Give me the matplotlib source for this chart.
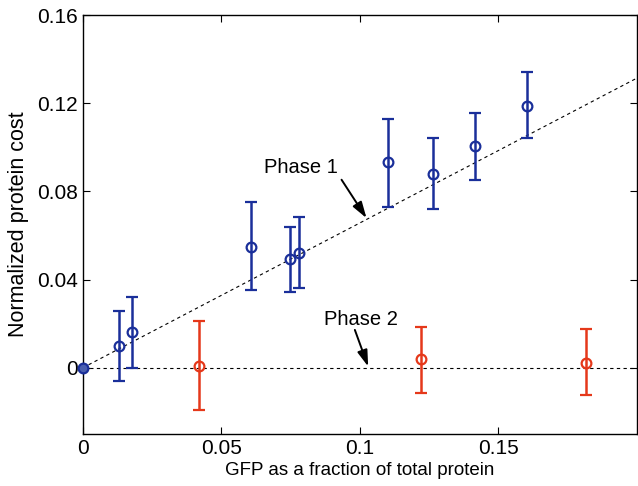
import matplotlib
matplotlib.use('Agg')
import matplotlib.pyplot as plt

plt.rcParams['font.family'] = ['Liberation Sans', 'DejaVu Sans']

# phase 1 measurements (blue)
x1 = [0.013, 0.0178, 0.0609, 0.0747, 0.0779, 0.1103, 0.1265, 0.1415, 0.1603]
y1 = [0.0101, 0.0162, 0.055, 0.0493, 0.052, 0.0933, 0.088, 0.1008, 0.1188]
y1_top = [0.026, 0.0319, 0.0753, 0.0638, 0.0683, 0.113, 0.1043, 0.1155, 0.1342]
y1_bot = [-0.0059, 0.0, 0.0354, 0.0343, 0.0363, 0.0731, 0.0721, 0.0853, 0.1044]

# phase 2 measurements (red)
x2 = [0.042, 0.1219, 0.1815]
y2 = [0.0009, 0.0039, 0.0024]
y2_top = [0.0213, 0.0186, 0.0177]
y2_bot = [-0.0192, -0.0115, -0.0124]

# fitted lines
fit_x = [0, 0.2]
fit1_y = [0, 0.1314]
fit2_y = [0, 0]

blue = '#1a2f9a'
red = '#e5381a'

fig = plt.figure(figsize=(6.38, 4.86), dpi=100)
ax = fig.add_axes([82.7 / 638, 1 - 434 / 486, (637 - 82.7) / 638, (434 - 15) / 486])

ax.plot(fit_x, fit1_y, color='black', ls=(0, (3, 3)), lw=0.8)
ax.plot(fit_x, fit2_y, color='black', ls=(0, (3, 3)), lw=0.8)

err1 = [[y - b for y, b in zip(y1, y1_bot)], [t - y for y, t in zip(y1, y1_top)]]
err2 = [[y - b for y, b in zip(y2, y2_bot)], [t - y for y, t in zip(y2, y2_top)]]
ax.errorbar(x1, y1, yerr=err1, fmt='o', color=blue, mfc='none', mec=blue,
            ms=7, mew=1.6, elinewidth=1.8, capsize=4, capthick=1.8)
ax.errorbar(x2, y2, yerr=err2, fmt='o', color=red, mfc='none', mec=red,
            ms=7, mew=1.6, elinewidth=1.8, capsize=4, capthick=1.8)
ax.plot([0], [0], 'o', color=blue, mfc='#4a5fb0', mec=blue, ms=7, mew=1.6,
        clip_on=False, zorder=5)

arrow = dict(arrowstyle='-|>,head_length=0.7,head_width=0.22', color='black',
             lw=1.4, shrinkA=0, shrinkB=0, mutation_scale=14)
ax.text(0.0787, 0.0907, 'Phase 1', ha='center', va='center', fontsize=14.5)
ax.annotate('', xy=(0.1024, 0.0679), xytext=(0.0934, 0.0853), arrowprops=arrow)
ax.text(0.1004, 0.0218, 'Phase 2', ha='center', va='center', fontsize=14.5)
ax.annotate('', xy=(0.103, 0.0006), xytext=(0.0982, 0.0172), arrowprops=arrow)

ax.set_xlim(0, 0.2)
ax.set_ylim(-0.03, 0.16)
ax.set_xticks([0, 0.05, 0.1, 0.15])
ax.set_xticklabels(['0', '0.05', '0.1', '0.15'])
ax.set_yticks([0, 0.04, 0.08, 0.12, 0.16])
ax.set_yticklabels(['0', '0.04', '0.08', '0.12', '0.16'])
ax.tick_params(direction='in', top=True, right=True, labelsize=15, length=5)
ax.set_xlabel('GFP as a fraction of total protein', fontsize=13.5, labelpad=3)
ax.set_ylabel('Normalized protein cost', fontsize=15.5, labelpad=6)
for s in ax.spines.values():
    s.set_linewidth(1.0)

fig.savefig('out.png', dpi=100)
